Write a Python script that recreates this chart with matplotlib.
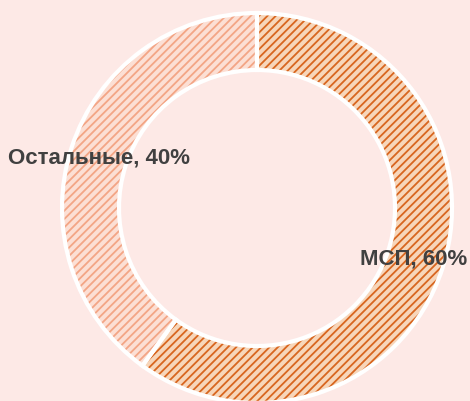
import matplotlib.pyplot as plt

# данные
labels = ["МСП, 60%", "Остальные, 40%"]
values = [60, 40]
faces = ["#f7d6ba", "#fcdfd4"]
hatch_colors = ["#d8661f", "#f3a585"]

plt.rcParams['font.family'] = ['Liberation Sans Narrow', 'Liberation Sans', 'DejaVu Sans']
plt.rcParams['hatch.linewidth'] = 1.3

bg = "#fde9e6"
fig = plt.figure(figsize=(4.70, 4.01), dpi=100, facecolor=bg)
ax = fig.add_axes([0, 0, 1, 1])
ax.set_facecolor(bg)

cx, cy, r, w = 257, 193, 195, 57

# заливка со штриховкой
wedges, _ = ax.pie(values, center=(cx, cy), radius=r, startangle=90,
                   counterclock=False, frame=True,
                   wedgeprops=dict(width=w, linewidth=0))
for wd, fc, hc in zip(wedges, faces, hatch_colors):
    wd.set_facecolor(fc)
    wd.set_edgecolor(hc)
    wd.set_hatch('////')

# белые границы
ax.pie(values, center=(cx, cy), radius=r, startangle=90,
       counterclock=False, frame=True,
       wedgeprops=dict(width=w, fill=False, edgecolor='white', linewidth=3))

ax.set_xlim(0, 470)
ax.set_ylim(0, 401)
ax.set_aspect('equal')
ax.axis('off')

ax.text(467, 401 - 259, labels[0], ha='right', va='center',
        fontsize=16, fontweight='bold', color='#404040')
ax.text(8, 401 - 158, labels[1], ha='left', va='center',
        fontsize=16, fontweight='bold', color='#404040')

fig.savefig("out.png", dpi=100, facecolor=bg)
